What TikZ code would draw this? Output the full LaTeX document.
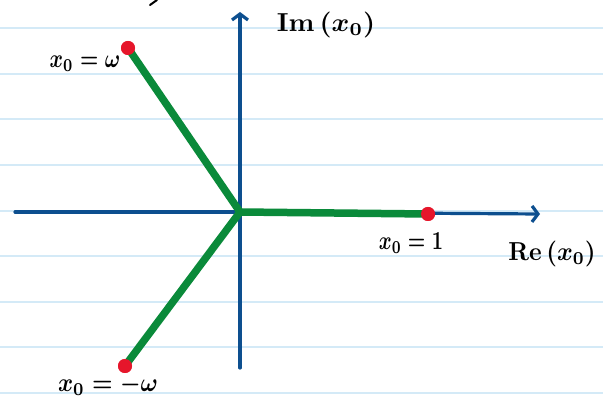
\documentclass[tikz,border=0pt]{standalone}
\usetikzlibrary{arrows.meta}
\definecolor{ruled}{HTML}{D4EAF7}
\definecolor{axisblue}{HTML}{0D4F8F}
\definecolor{rootgreen}{HTML}{0A8A3A}
\definecolor{dotred}{HTML}{E6162B}
\newcommand{\handtext}[2]{\scalebox{#1}[2.6]{\boldmath #2}}
\tikzset{
  ruleline/.style={ruled, line width=1.3pt},
  axisline/.style={axisblue, line width=3.2pt, line cap=round},
  axisarrow/.style={axisline, -{Straight Barb[length=6pt,width=16pt,line width=3.2pt]}},
  rootline/.style={rootgreen, line width=7.5pt, line cap=round},
  rootdot/.style={circle, fill=dotred, inner sep=0pt, minimum size=14pt},
  hand/.style={inner sep=0pt},
}
\begin{document}
\begin{tikzpicture}[x=1pt,y=-1pt]
\useasboundingbox (0,0) rectangle (603,403);
\fill[white] (0,0) rectangle (603,403);
\foreach \yy in {28,74,119,165,211,256,302,347,393}
  \draw[ruleline] (0,\yy) -- (603,\yy);
% axes
\coordinate (xl) at (15,212);
\coordinate (xr) at (540,214);
\coordinate (yb) at (240,368);
\coordinate (yt) at (240,12);
\coordinate (O) at (240,212);
\draw[axisline] (xl) -- (O);
\draw[axisarrow] (O) -- (xr);
\draw[axisarrow] (yb) -- (yt);
% roots
\node[rootdot] (w) at (128,48) {};
\node[rootdot] (one) at (428,214) {};
\node[rootdot] (mw) at (125,366) {};
\draw[rootline] (O) -- (w.center);
\draw[rootline] (O) -- (one.center);
\draw[rootline] (O) -- (mw.center);
\node[rootdot] at (w) {};
\node[rootdot] at (one) {};
\node[rootdot] at (mw) {};
% labels
\node[hand] (lw) at (85,64) {\handtext{2.05}{$x_0=\omega$}};
\node[hand] (lone) at (411,243) {\handtext{1.96}{$x_0=1$}};
\node[hand] (lmw) at (108,385) {\handtext{2.3}{$x_0=-\omega$}};
\node[hand] (lim) at (326,25) {\handtext{2.7}{$\mathrm{Im}\,(x_0)$}};
\node[hand] (lre) at (552,254) {\handtext{2.4}{$\mathrm{Re}\,(x_0)$}};
% cut-off stroke at top
\draw[black, line width=2pt, line cap=round] (150,5) -- (157,0);
\end{tikzpicture}
\end{document}
